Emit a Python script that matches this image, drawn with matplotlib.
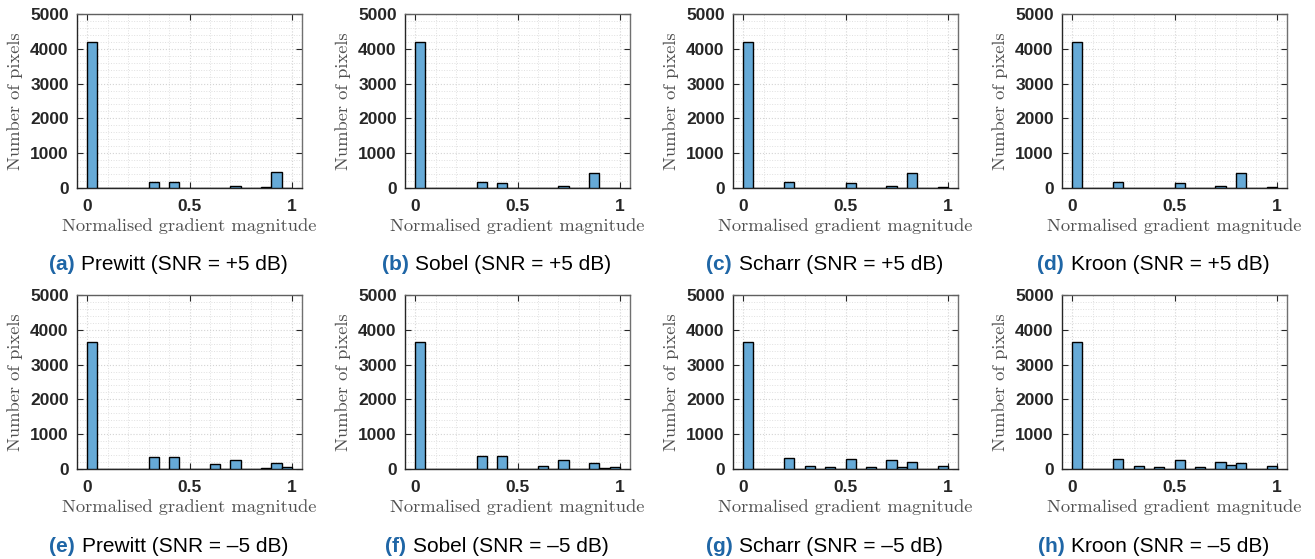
import numpy as np
import matplotlib
matplotlib.use('Agg')
import matplotlib.pyplot as plt
from matplotlib.offsetbox import TextArea, HPacker, AnnotationBbox
from matplotlib.ticker import MultipleLocator

# histogram bins: 20 bins of width 0.05 over [0, 1]
bin_edges = np.linspace(0.0, 1.0, 21)

# pixel counts per bin, SNR = +5 dB
prewitt_p5 = [4200, 0, 0, 0, 0, 0, 163, 0, 180, 0, 0, 0, 10, 0, 60, 0, 0, 15, 450, 5]
sobel_p5 = [4200, 0, 0, 0, 0, 0, 170, 0, 150, 0, 0, 0, 0, 0, 55, 0, 0, 440, 0, 10]
scharr_p5 = [4200, 0, 0, 0, 165, 0, 5, 5, 0, 0, 145, 0, 0, 0, 55, 0, 445, 0, 0, 15]
kroon_p5 = [4200, 0, 0, 0, 165, 0, 5, 5, 0, 0, 144, 0, 0, 0, 55, 0, 435, 0, 0, 15]

# pixel counts per bin, SNR = -5 dB
prewitt_m5 = [3660, 0, 0, 0, 0, 0, 335, 0, 350, 0, 0, 0, 143, 0, 268, 0, 0, 38, 172, 48]
sobel_m5 = [3660, 0, 0, 0, 0, 0, 385, 0, 365, 0, 0, 0, 96, 0, 260, 0, 0, 183, 30, 50]
scharr_m5 = [3660, 0, 0, 0, 310, 0, 100, 0, 65, 0, 280, 10, 55, 0, 270, 50, 190, 0, 0, 75]
kroon_m5 = [3660, 0, 0, 0, 300, 0, 95, 0, 70, 0, 265, 0, 50, 0, 215, 120, 180, 0, 0, 75]

letters = ['a', 'b', 'c', 'd', 'e', 'f', 'g', 'h']
names = ['Prewitt', 'Sobel', 'Scharr', 'Kroon'] * 2
snr = ['+5 dB'] * 4 + ['\u20135 dB'] * 4
counts = [prewitt_p5, sobel_p5, scharr_p5, kroon_p5,
          prewitt_m5, sobel_m5, scharr_m5, kroon_m5]

bar_color = '#66aad7'
axis_color = '#262626'
label_color = '#505050'
letter_color = '#1f66a6'

W, H = 1315, 559
fig = plt.figure(figsize=(W / 100, H / 100), dpi=100)

col_left = [77, 405, 733, 1062]
row_top = [14, 295]
ax_w, ax_h = 225, 174

for k in range(8):
    r, c = divmod(k, 4)
    x0 = col_left[c]
    y0 = row_top[r]
    ax = fig.add_axes([x0 / W, 1 - (y0 + ax_h) / H, ax_w / W, ax_h / H])

    ax.bar(bin_edges[:-1], counts[k], width=np.diff(bin_edges), align='edge',
           color=bar_color, edgecolor='black', linewidth=1.0, zorder=3)

    ax.set_xlim(-0.05, 1.05)
    ax.set_ylim(0, 5000)
    ax.set_xticks([0, 0.5, 1])
    ax.set_xticklabels(['0', '0.5', '1'])
    ax.set_yticks([0, 1000, 2000, 3000, 4000, 5000])
    ax.xaxis.set_minor_locator(MultipleLocator(0.1))
    ax.yaxis.set_minor_locator(MultipleLocator(200))

    ax.grid(True, which='major', color='#d4d4d4', linestyle=':', linewidth=0.8, zorder=0)
    ax.grid(True, which='minor', color='#e0e0e0', linestyle=':', linewidth=0.7, zorder=0)
    ax.set_axisbelow(True)

    ax.tick_params(which='major', direction='in', length=4, width=0.8,
                   top=True, right=True, colors=axis_color, pad=6)
    ax.tick_params(axis='x', which='major', pad=8)
    ax.tick_params(which='minor', length=0)
    for lab in ax.get_xticklabels() + ax.get_yticklabels():
        lab.set_fontfamily('Liberation Sans')
        lab.set_fontweight('bold')
        lab.set_fontsize(12.5)
        lab.set_color(axis_color)

    ax.spines['left'].set_color(axis_color)
    ax.spines['bottom'].set_color(axis_color)
    ax.spines['top'].set_color('#606060')
    ax.spines['right'].set_color('#707070')
    for s in ax.spines.values():
        s.set_linewidth(1.0)

    ax.set_xlabel('Normalised gradient magnitude', family='cmr10', fontsize=13.3,
                  color=label_color, labelpad=3)
    ax.set_ylabel('Number of pixels', family='cmr10', fontsize=13.3,
                  color=label_color, labelpad=5)

    # sub-figure caption: bold coloured letter followed by the filter name
    t1 = TextArea('(%s)' % letters[k], textprops=dict(family='Liberation Sans',
                  fontweight='bold', fontsize=15, color=letter_color))
    t2 = TextArea('%s (SNR = %s)' % (names[k], snr[k]),
                  textprops=dict(family='Liberation Sans', fontsize=15, color='black'))
    box = HPacker(children=[t1, t2], align='baseline', pad=0, sep=5)
    cx = x0 + ax_w / 2 - 21
    cy = y0 + 251
    ab = AnnotationBbox(box, (cx / W, 1 - cy / H), xycoords='figure fraction',
                        frameon=False, box_alignment=(0.5, 0.5), pad=0)
    fig.add_artist(ab)

fig.savefig('out.png', dpi=100)
